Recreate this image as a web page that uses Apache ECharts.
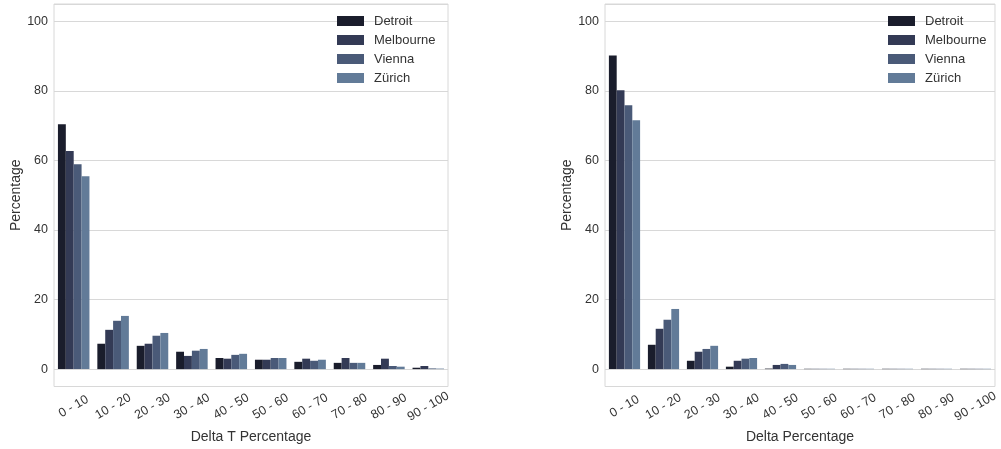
<!doctype html>
<html>
<head>
<meta charset="utf-8">
<title>Delta histograms</title>
<style>
  html, body { margin: 0; padding: 0; background: #fff; }
  #main { width: 1001px; height: 449px; }
</style>
</head>
<body>
<div id="main"></div>
<script src="https://cdn.jsdelivr.net/npm/echarts@6/dist/echarts.min.js"></script>
<script>
var bins = ['0 - 10', '10 - 20', '20 - 30', '30 - 40', '40 - 50', '50 - 60', '60 - 70', '70 - 80', '80 - 90', '90 - 100'];
var cities = ['Detroit', 'Melbourne', 'Vienna', 'Zürich'];
var colors = ['#1a1d2c', '#333a55', '#4a5a78', '#627b98'];

// left panel: Delta T Percentage
var deltaT = {
    'Detroit':   [70.4, 7.3, 6.7, 5.0, 3.2, 2.7, 2.1, 1.8, 1.2, 0.4],
    'Melbourne': [62.7, 11.3, 7.3, 3.8, 3.0, 2.7, 3.0, 3.2, 3.0, 0.9],
    'Vienna':    [58.9, 13.9, 9.6, 5.3, 4.1, 3.2, 2.4, 1.8, 0.9, 0.2],
    'Zürich':    [55.5, 15.3, 10.4, 5.8, 4.4, 3.2, 2.7, 1.8, 0.7, 0.15]
};
// right panel: Delta Percentage
var delta = {
    'Detroit':   [90.2, 7.0, 2.4, 0.7, 0.15, 0.1, 0.1, 0.1, 0.1, 0.1],
    'Melbourne': [80.2, 11.6, 5.0, 2.4, 1.2, 0.1, 0.1, 0.1, 0.1, 0.1],
    'Vienna':    [75.9, 14.2, 5.8, 3.0, 1.5, 0.1, 0.1, 0.1, 0.1, 0.1],
    'Zürich':    [71.6, 17.3, 6.7, 3.2, 1.2, 0.1, 0.1, 0.1, 0.1, 0.1]
};
var xNames = ['Delta T Percentage', 'Delta Percentage'];

var font = 'Liberation Sans, Arial, sans-serif';
var gridColor = '#d8d8d8';

function xAxis(i) {
    return {
        type: 'category',
        gridIndex: i,
        data: bins,
        name: xNames[i],
        nameLocation: 'middle',
        nameGap: 41,
        nameTextStyle: { fontFamily: font, fontSize: 14, color: '#333', verticalAlign: 'top' },
        axisLine: { show: false },
        axisTick: { show: false },
        splitLine: { show: false },
        axisLabel: {
            rotate: 30, align: 'center', verticalAlign: 'middle', margin: 20,
            interval: 0, fontFamily: font, fontSize: 12.5, color: '#333'
        }
    };
}
function yAxis(i) {
    return {
        type: 'value',
        gridIndex: i,
        min: -5,
        max: 105,
        splitNumber: 5,
        name: 'Percentage',
        nameLocation: 'middle',
        nameGap: 30,
        nameTextStyle: { fontFamily: font, fontSize: 14, color: '#333' },
        axisLine: { show: false },
        axisTick: { show: false },
        axisLabel: { showMinLabel: false, showMaxLabel: false, margin: 6, fontFamily: font, fontSize: 12.5, color: '#333' },
        splitLine: { lineStyle: { color: gridColor, width: 1 } }
    };
}
function legend(left) {
    return {
        orient: 'vertical',
        left: left,
        top: 14,
        itemWidth: 27,
        itemHeight: 10,
        itemGap: 5,
        icon: 'rect',
        data: cities,
        textStyle: { fontFamily: font, fontSize: 13, color: '#333', lineHeight: 14, padding: [0, 0, 0, 5] },
        padding: 0
    };
}

var series = [];
[deltaT, delta].forEach(function (set, g) {
    cities.forEach(function (c, k) {
        series.push({
            type: 'bar',
            name: c,
            xAxisIndex: g,
            yAxisIndex: g,
            data: set[c],
            itemStyle: { color: colors[k] },
            barGap: '0%',
            barCategoryGap: '20%',
            emphasis: { disabled: true }
        });
    });
});

var chart = echarts.init(document.getElementById('main'));
chart.setOption({
    backgroundColor: '#fff',
    animation: false,
    color: colors,
    grid: [
        { left: 54, top: 4, width: 394, height: 383, show: true, borderColor: gridColor, borderWidth: 1 },
        { left: 605, top: 4, width: 394, height: 383, show: true, borderColor: gridColor, borderWidth: 1 }
    ],
    legend: [legend(337), legend(888)],
    xAxis: [xAxis(0), xAxis(1)],
    yAxis: [yAxis(0), yAxis(1)],
    series: series
});
window.addEventListener('resize', function () {
    chart.resize();
});
</script>
</body>
</html>
